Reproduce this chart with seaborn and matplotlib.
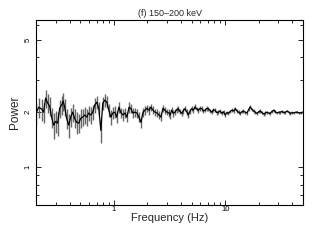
import numpy as np
import pandas as pd
import matplotlib
matplotlib.use("Agg")
import matplotlib.pyplot as plt
import matplotlib.ticker as mticker
import seaborn as sns

# ---- data ----
freqs1 = [0.201, 0.211, 0.225, 0.234, 0.244, 0.255, 0.265, 0.276, 0.288, 0.300,
          0.313, 0.326, 0.340, 0.351, 0.362, 0.377, 0.393, 0.410, 0.427, 0.445,
          0.464, 0.484, 0.504, 0.526, 0.548, 0.571, 0.595, 0.621, 0.647, 0.674,
          0.703, 0.733, 0.764, 0.796, 0.830, 0.865, 0.902, 0.940, 0.979]
pow1 = [1.98, 2.13, 2.08, 2.00, 2.39, 2.24, 2.16, 1.88, 1.70, 1.78,
        1.74, 2.10, 2.19, 2.30, 2.13, 1.85, 1.70, 1.88, 2.00, 1.85,
        1.76, 1.74, 1.85, 1.88, 1.93, 1.88, 1.98, 1.93, 2.00, 2.19,
        2.27, 2.10, 1.59, 2.24, 2.33, 2.27, 2.05, 1.88, 1.98]
err1 = [0.27, 0.26, 0.28, 0.25, 0.27, 0.26, 0.25, 0.24, 0.27, 0.25,
        0.26, 0.24, 0.25, 0.26, 0.23, 0.24, 0.26, 0.22, 0.23, 0.22,
        0.24, 0.21, 0.22, 0.20, 0.21, 0.20, 0.19, 0.21, 0.18, 0.20,
        0.19, 0.18, 0.24, 0.18, 0.19, 0.17, 0.16, 0.17, 0.15]

freqs2 = [1.02, 1.06, 1.11, 1.16, 1.21, 1.26, 1.31, 1.37, 1.42, 1.48,
          1.55, 1.61, 1.68, 1.75, 1.83, 1.90, 1.98, 2.07, 2.15, 2.25,
          2.34, 2.44, 2.54, 2.65, 2.76, 2.88, 3.00, 3.13]
pow2 = [2.00, 1.88, 2.13, 1.98, 1.93, 1.98, 1.88, 2.13, 2.10, 1.98,
        2.00, 1.98, 1.88, 1.76, 2.00, 2.05, 2.10, 2.05, 2.13, 2.05,
        2.00, 1.98, 1.93, 1.88, 2.10, 2.05, 2.00, 1.98]
err2 = [0.15, 0.14, 0.15, 0.13, 0.14, 0.13, 0.12, 0.14, 0.13, 0.12,
        0.12, 0.11, 0.12, 0.13, 0.11, 0.11, 0.10, 0.11, 0.10, 0.10,
        0.09, 0.10, 0.09, 0.09, 0.10, 0.09, 0.08, 0.09]

freqs3 = [3.20, 3.31, 3.42, 3.54, 3.66, 3.79, 3.93, 4.07, 4.21, 4.36,
          4.51, 4.67, 4.83, 5.00, 5.18, 5.36, 5.55, 5.75, 5.95, 6.16,
          6.38, 6.60, 6.83, 7.07, 7.32, 7.58, 7.85, 8.12, 8.41, 8.70,
          9.01, 9.33, 9.66, 10.0, 10.35, 10.7, 11.1, 11.5, 11.9, 12.3]
pow3 = [1.93, 2.05, 1.97, 2.00, 2.06, 2.09, 2.02, 1.97, 2.04, 2.09,
        2.01, 1.93, 2.03, 2.09, 2.05, 2.14, 2.08, 2.05, 2.10, 2.09,
        2.03, 2.05, 2.10, 2.09, 2.04, 2.00, 2.06, 2.05, 1.99, 2.00,
        2.03, 1.97, 2.01, 1.93, 1.99, 1.97, 2.02, 2.05, 2.03, 2.09]
err3 = [0.085, 0.080, 0.085, 0.080, 0.075, 0.080, 0.075, 0.070, 0.075, 0.070,
        0.070, 0.075, 0.065, 0.070, 0.065, 0.065, 0.060, 0.065, 0.060, 0.060,
        0.060, 0.055, 0.060, 0.055, 0.055, 0.055, 0.050, 0.055, 0.050, 0.050,
        0.050, 0.050, 0.048, 0.050, 0.046, 0.047, 0.045, 0.046, 0.044, 0.045]

freqs4 = [12.8, 13.2, 13.6, 14.1, 14.6, 15.1, 15.7, 16.2, 16.8, 17.4,
          18.0, 18.6, 19.3, 20.0, 20.7, 21.4, 22.2, 22.9, 23.7, 24.5,
          25.4, 26.3, 27.3, 28.2, 29.2, 30.2, 31.3, 32.4, 33.6, 34.8,
          36.0, 37.3, 38.6, 40.0, 41.4, 42.9, 44.4, 46.0, 47.6, 49.3]
pow4 = [2.03, 2.00, 1.97, 2.01, 2.03, 2.00, 1.98, 2.06, 2.14, 2.07,
        2.03, 2.00, 1.97, 2.01, 2.03, 1.99, 1.95, 1.98, 2.00, 1.98,
        1.97, 2.02, 2.05, 2.01, 1.98, 2.00, 2.00, 2.02, 1.99, 2.00,
        2.03, 2.00, 1.97, 1.99, 1.98, 2.00, 2.00, 1.98, 1.98, 2.00]
err4 = [0.044, 0.043, 0.044, 0.042, 0.043, 0.042, 0.041, 0.042, 0.040, 0.041,
        0.040, 0.039, 0.040, 0.038, 0.039, 0.038, 0.037, 0.038, 0.036, 0.037,
        0.036, 0.035, 0.036, 0.035, 0.034, 0.035, 0.034, 0.033, 0.034, 0.033,
        0.032, 0.033, 0.032, 0.031, 0.032, 0.031, 0.030, 0.031, 0.030, 0.030]

title = "(f) 150\u2013200 keV"
xlabel = "Frequency (Hz)"
ylabel = "Power"
yticks = [1, 2, 5]
xticks = [1, 10]

df = pd.DataFrame({
    "freq": freqs1 + freqs2 + freqs3 + freqs4,
    "power": pow1 + pow2 + pow3 + pow4,
    "err": err1 + err2 + err3 + err4,
})

sns.set_style("ticks")
plt.rcParams["font.family"] = ["Liberation Sans", "DejaVu Sans"]

fig = plt.figure(figsize=(3.12, 2.40), dpi=100)
ax = fig.add_axes([36 / 312, 1 - 205 / 240, (303 - 36) / 312, (205 - 20) / 240])

ax.errorbar(df["freq"], df["power"], yerr=df["err"], fmt="none",
            ecolor="0.4", elinewidth=1.0, capsize=0)
sns.lineplot(data=df, x="freq", y="power", color="black", lw=0.9, ax=ax,
             estimator=None)

ax.set_xscale("log")
ax.set_yscale("log")
ax.set_xlim(0.2, 50)
ax.set_ylim(0.62, 6.4)

ax.set_xticks(xticks)
ax.xaxis.set_major_formatter(mticker.FixedFormatter([str(t) for t in xticks]))
ax.xaxis.set_minor_formatter(mticker.NullFormatter())
ax.set_yticks(yticks)
ax.yaxis.set_major_formatter(mticker.FixedFormatter([str(t) for t in yticks]))
ax.yaxis.set_minor_formatter(mticker.NullFormatter())

ax.tick_params(which="both", direction="in", top=True, right=True,
               width=0.6, colors="black", labelsize=5.5)
ax.tick_params(axis="x", pad=1)
ax.tick_params(axis="y", pad=3)
ax.tick_params(which="major", length=3.5)
ax.tick_params(which="minor", length=2)
for lab in ax.get_yticklabels():
    lab.set_rotation(90)
    lab.set_va("center")

for s in ax.spines.values():
    s.set_linewidth(0.8)
    s.set_color("black")

ax.set_xlabel(xlabel, fontsize=8, labelpad=0)
ax.set_ylabel(ylabel, fontsize=8.5, labelpad=3)
ax.set_title(title, fontsize=6.5, pad=3)

fig.savefig("out.png", dpi=100)
